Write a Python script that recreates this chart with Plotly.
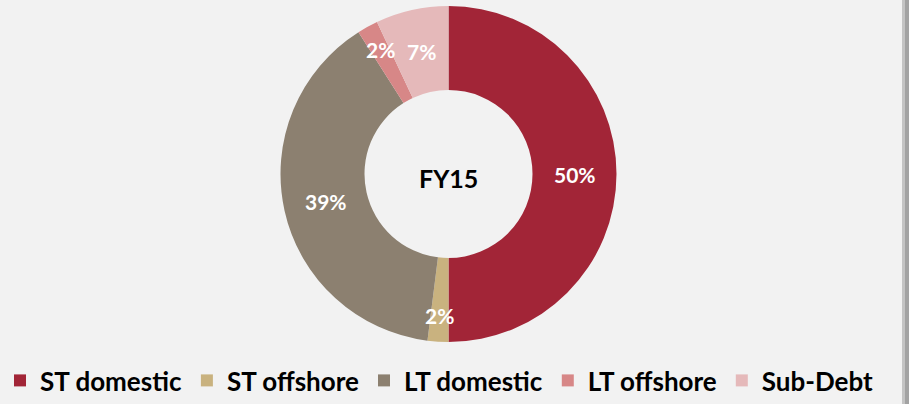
import math
import plotly.graph_objects as go

# Funding mix, FY15
categories = ["ST domestic", "ST offshore", "LT domestic", "LT offshore", "Sub-Debt"]
shares = [50, 2, 39, 2, 7]
colors = ["#a22537", "#c9b27f", "#8c8070", "#d78787", "#e5b9ba"]
center_label = "FY15"

W, H = 909, 404
cx, cy, R = 448.5, 174, 168  # pie centre and outer radius in pixels
hole = 0.5

fig = go.Figure(
    go.Pie(
        labels=categories,
        values=shares,
        textinfo="none",
        marker=dict(colors=colors, line=dict(width=0)),
        hole=hole,
        sort=False,
        direction="clockwise",
        rotation=0,
        domain=dict(x=[(cx - R) / W, (cx + R) / W], y=[(H - cy - R) / H, (H - cy + R) / H]),
        hoverinfo="label+percent",
    )
)

annotations = [
    dict(
        text=f"<b>{center_label}</b>", x=cx / W, y=(H - 178) / H, xref="paper", yref="paper",
        xanchor="center", yanchor="middle",
        showarrow=False, font=dict(family="Lato", size=25, color="black"),
    )
]

# percentage labels sit on each slice's mid-angle; thin slices push them outward
total = sum(shares)
cum = 0
for v in shares:
    mid = (cum + v / 2) / total * 2 * math.pi
    cum += v
    r = (0.75 if v >= 5 else 0.845) * R
    px = cx + r * math.sin(mid)
    py = cy - r * math.cos(mid)
    annotations.append(
        dict(
            text=f"<b>{v}%</b>", x=px / W, y=(H - py) / H, xref="paper", yref="paper",
            xanchor="center", yanchor="middle",
            showarrow=False, font=dict(family="Lato", size=21, color="white"),
        )
    )

fig.update_layout(
    width=W,
    height=H,
    margin=dict(l=0, r=0, t=0, b=0),
    paper_bgcolor="#f2f2f2",
    plot_bgcolor="#f2f2f2",
    showlegend=True,
    legend=dict(
        orientation="h",
        x=0.0,
        xanchor="left",
        y=0,
        yanchor="bottom",
        font=dict(family="Lato", size=26, color="black", weight="bold"),
        itemwidth=30,
        bgcolor="rgba(0,0,0,0)",
        traceorder="normal",
    ),
    annotations=annotations,
    shapes=[
        dict(type="rect", xref="paper", yref="paper", x0=902 / W, x1=905 / W, y0=0, y1=1,
             fillcolor="#c4c4c4", line=dict(width=0), layer="above"),
        dict(type="rect", xref="paper", yref="paper", x0=905 / W, x1=1, y0=0, y1=1,
             fillcolor="#a3a3a3", line=dict(width=0), layer="above"),
    ],
)

fig.write_html("out.html")
